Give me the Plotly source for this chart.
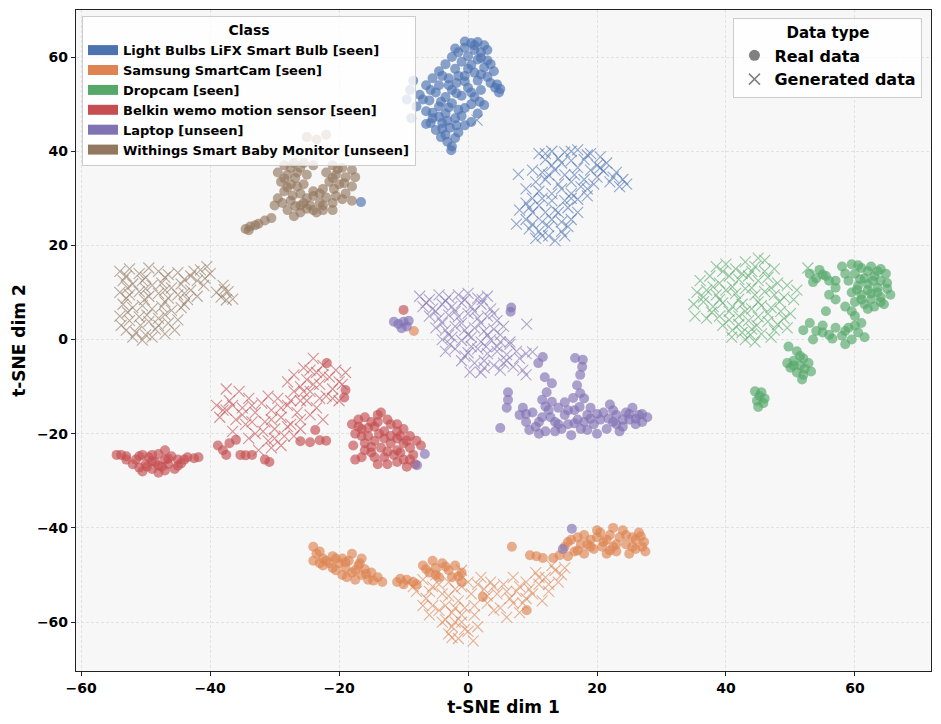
import plotly.graph_objects as go

# ---------------------------------------------------------------------------
# Data (x, y) per class / data type
# ---------------------------------------------------------------------------

CLASSES = [
    "Light Bulbs LiFX Smart Bulb [seen]",
    "Samsung SmartCam [seen]",
    "Dropcam [seen]",
    "Belkin wemo motion sensor [seen]",
    "Laptop [unseen]",
    "Withings Smart Baby Monitor [unseen]",
]
COLORS = ["#4C72B0", "#DD8452", "#55A868", "#C44E52", "#8172B3", "#937860"]

BULB_REAL = [
    (0.5, 63), (1.5, 63.2), (2.5, 62.5), (-0.5, 62), (1, 61.5), (2, 61), (3, 61.5), (-1.5, 61),
    (0, 60.2), (-2.5, 60), (1.5, 59.5), (3, 59.3), (-1, 59), (-3.5, 58.5), (0.5, 58.3), (2.5, 57.8),
    (-2, 57.5), (4, 57), (-4.5, 57), (1, 56.7), (-0.5, 56), (3, 55.8), (-3, 55.5), (-5.5, 55.5),
    (4.5, 54.2), (5, 53.2), (4.2, 53.5), (1.5, 55), (-1.8, 54.5), (-4.5, 54), (-6.5, 54), (-2.5, 53),
    (0, 53.5), (2, 53), (-5, 52.5), (-7.5, 52), (-3.5, 51.5), (-1, 51.8), (1, 51.5), (-6, 50.8),
    (-2.5, 50.2), (0.5, 50), (-4.5, 49.5), (-8, 49.5), (2.5, 49.8), (-1.5, 48.8), (-6.5, 48.5),
    (1.5, 48), (-3.5, 48), (-5.5, 47), (-2, 47), (-4, 46), (0.5, 46.2), (-6.5, 45.8), (-2.8, 45),
    (-5, 44.5), (-1.5, 44), (-3.5, 43.5), (-2, 42.8), (-3.2, 42), (-2.5, 41), (-2.6, 40.2),
    (-4, 44.8), (-8.5, 55), (-9, 53), (-8.8, 47), (-9.5, 51), (-16.6, 29.2),
    (-0.5, 63.3), (1, 62.5), (2, 59.8), (-2, 61.8), (0, 57.5), (-1.5, 56), (2, 56.3), (-4, 56),
    (3.5, 54.5), (-3, 54), (-0.5, 54.8), (-5.8, 53), (-1.8, 52.3), (0.5, 52.5), (-4.2, 50.5),
    (-7, 51), (1.8, 50.5), (-3, 49.3), (-0.5, 49.2), (-5.5, 48.2), (-4.5, 47.3), (-1, 47.5),
    (-3.2, 46.5), (-5.8, 46), (-0.5, 45.5), (-4.2, 43), (-1.8, 45.5), (4.8, 52.5), (3.5, 58.5),
]
BULB_GEN = [
    (11, 39.5), (13, 40), (15, 39.8), (17, 40.3), (19, 39.5), (20.5, 38.8), (12, 38.2), (14, 38.5),
    (16, 38), (18, 38.2), (21.5, 37.5), (13, 37), (10, 36), (11.5, 35.5), (13.5, 36), (15, 35),
    (17, 36.5), (19, 36), (21, 35.8), (22.5, 34.5), (24, 34), (24.6, 33), (23.5, 32.5), (18, 34),
    (16, 33.5), (12, 34), (10.5, 33.5), (9, 32), (11, 31.5), (14.5, 32), (16, 31), (17.5, 32.5),
    (19.5, 33), (15, 29.5), (17, 29.8), (18.5, 30.5), (10, 30), (9, 29), (11, 28.5), (8, 27.5),
    (10, 27), (12, 27), (13.5, 27.5), (15.5, 28), (17, 27), (9, 25.5), (11.5, 25), (13, 25.5),
    (14.5, 25), (16, 25.5), (7.5, 24.5), (9.5, 23.5), (11, 23), (12.5, 22), (13.5, 21), (14.5, 23),
    (10.5, 21.5), (15, 22), (7.8, 35.1), (1.4, 46.6),
    (12, 39.5), (16, 40), (18.5, 39.2), (14.5, 37.5), (20, 37), (12.5, 35), (16.5, 35), (20, 34.5),
    (22, 33.5), (14, 33), (13, 31), (18.5, 32), (11.5, 30), (16, 30), (9.5, 28), (14, 27),
    (12.5, 24), (10, 24.5), (15.5, 24), (11.5, 22), (13, 29.5), (20.5, 36.5), (23, 35.5),
]

CAM_REAL = [
    (-24, -44), (-23.5, -45.5), (-24, -47), (-22.5, -46.5), (-21.5, -47.5), (-22.5, -48), (-21, -46),
    (-20, -47.5), (-19.5, -46.5), (-19, -48.5), (-18.5, -47), (-18, -49.5), (-17, -48), (-16.5, -50),
    (-16, -48.8), (-15.5, -51), (-15, -49.5), (-14, -50.5), (-13.3, -51.5), (-17.5, -51), (-19.5, -50),
    (-20.5, -49), (-18, -45.5), (-16.5, -46.5), (-23, -47.5), (-11, -51.5), (-10, -52), (-9.5, -51),
    (-8.5, -51.5), (-7, -48), (-6, -49.5), (-5, -48.5), (-4, -47.5), (-3, -49), (-2, -48), (-1, -49.5),
    (-4.5, -50.5), (-2.5, -50.5), (-1, -51.5), (-5.5, -47), (6.8, -44), (9.6, -45.8), (10.6, -46),
    (11.6, -46.4), (13.2, -46.4), (14.2, -45.8), (2.3, -54.7), (9.1, -57.5), (15, -44), (16, -42.5),
    (16.5, -45), (17.5, -43.5), (18, -41.5), (19, -42.5), (19.5, -44.5), (20.5, -41), (21, -43),
    (22, -41.5), (22.5, -44), (23.5, -42), (24, -40.5), (24.5, -43.5), (25.5, -42), (26, -44.5),
    (26.5, -41), (27.3, -43), (27.5, -45), (25, -45.5), (23, -45), (21.5, -45.5), (18, -45.5),
    (20, -40.5), (22.5, -40), (15.5, -46), (-8.4, 1.8),
    (-23, -45), (-21, -48.5), (-20.5, -46.5), (-19, -47.3), (-17.5, -49), (-15.8, -49.8),
    (-14.7, -51.2), (-22, -47), (-18.8, -50.5), (-16.8, -47.5), (-10.5, -50.8), (-6.5, -48.8),
    (-3.5, -48.2), (-1.5, -50.3), (-5, -50), (-8, -52), (15.5, -43), (17, -42), (18.5, -43.5),
    (20, -42), (21.5, -42.5), (23, -43.5), (24.5, -41.5), (26, -42.5), (25.5, -44), (19, -44),
    (22, -44.8), (27, -44), (17, -44.8), (26.8, -41.8), (20.8, -44),
]
CAM_GEN = [
    (-9.3, -51.5), (-8, -53.5), (-7, -51), (-6.5, -55), (-5.5, -52.5), (-5, -50), (-4, -54),
    (-3.5, -56.5), (-3, -51.5), (-2, -53), (-1.5, -55.5), (-1, -49), (0, -51.5), (0.5, -54),
    (-0.5, -57), (-2.5, -58), (-4.5, -57.5), (-7, -56.5), (-6, -58.5), (-4, -60), (-2.5, -61),
    (-1, -60), (0, -62), (-1.5, -63.5), (0.8, -64), (-3, -62.5), (1, -58.5), (1.5, -61), (2, -50.5),
    (2.5, -53), (3, -56), (3.5, -51.5), (4.5, -54), (5, -57), (5.5, -52), (6.5, -55), (7, -50.5),
    (7.5, -53.5), (8.5, -56), (9, -51.5), (10, -54), (10.5, -49.5), (11, -52), (12, -50.5),
    (12.5, -53.5), (13.5, -49), (14, -51.5), (15, -48.5), (11.5, -55.5), (8, -58), (6, -59), (13, -48),
    (-8.5, -52.5), (-6, -53.5), (-4.5, -52), (-3, -54.5), (-5.5, -56.5), (-1, -52.5), (-2, -57),
    (-3.5, -59.5), (-2, -60), (-0.5, -61.5), (-1, -58.5), (1, -56.5), (1.5, -52), (3, -54.5),
    (4, -52.5), (6, -53.5), (7, -56), (8, -52.5), (9.5, -53), (11, -50.5), (12.5, -52), (14.5, -50),
    (9, -55), (4, -57.5), (-2.5, -63.3),
]

DROP_REAL = [
    (53, 14), (54.5, 14.8), (55.5, 13.5), (54, 13), (53.5, 12.2), (56, 12.5), (57, 11), (58, 15.5),
    (59.5, 16), (61, 15.2), (62.5, 15.5), (64, 15), (64.8, 14), (60, 14), (61.5, 13), (63, 13.5),
    (59, 12.5), (60.5, 11.5), (62, 11.8), (63.5, 11), (65, 12), (59.5, 10), (61, 9.5), (62.5, 9.8),
    (64, 9), (65.5, 9.5), (60, 8), (61.5, 7.5), (63, 7), (64.5, 7.5), (58.5, 7), (57, 8.5), (56, 9.5),
    (55.5, 6), (60, 5), (61, 3.5), (59, 2.5), (60.5, 1.5), (61.5, 0.5), (59.5, 0), (58, 0.8),
    (57, 2.5), (56, 1), (55, 3), (54, 1.8), (53, 3.5), (52, 2), (58.5, -1), (53.5, 0), (49.7, -1.5),
    (51, -2.5), (52, -4), (50.5, -4.5), (51.5, -5.5), (52.8, -5), (50, -6), (51, -7), (52, -7.5),
    (53.2, -6.8), (51.8, -8.5), (49.5, -5), (44.5, -11), (45.2, -12), (44.8, -13), (45.8, -13.5),
    (45, -14.3), (46, -12.5),
    (55, 13.8), (57, 12.5), (58.5, 14), (60.5, 15.8), (62, 14.5), (63.5, 14.5), (60.8, 12.8),
    (62.8, 12.5), (64, 12.5), (60.3, 10.6), (62, 10.5), (63.5, 10), (65, 10.8), (61, 8.5),
    (62.5, 8.5), (64, 8), (62, 6.5), (59.5, 6), (60, 3), (58.5, 1.8), (56.5, 0.2), (55, 1.5),
    (51.5, -3.5), (50.5, -5.5), (52.2, -6.2), (45.5, -11.2),
]
DROP_GEN = [
    (38.5, 15.5), (40, 16), (41.5, 15), (43, 16.5), (44.5, 15.5), (46, 16.8), (47.5, 15), (45, 17.3),
    (36, 12.5), (37.5, 13.5), (39, 12), (40.5, 13.5), (42, 12.8), (43.5, 13.5), (45, 12.5),
    (46.5, 13.2), (48, 12), (49.5, 11.5), (51, 10.5), (35.5, 10), (37, 10.5), (38.5, 9.5), (40, 10.5),
    (41.5, 9.8), (43, 10.8), (44.5, 9.5), (46, 10.2), (47.5, 9.5), (49, 9), (50.5, 8.5), (35, 7.5),
    (36.5, 8), (38, 7), (39.5, 7.8), (41, 7), (42.5, 7.5), (44, 6.5), (45.5, 7.2), (47, 6.8),
    (48.5, 6), (50, 5.5), (35.2, 5), (37, 4.5), (39, 5), (40.5, 4.2), (42, 5), (43.5, 4), (45, 4.8),
    (46.5, 3.8), (48, 3.2), (49.5, 2.5), (41, 2), (42.5, 1.5), (44, 2.2), (45.5, 1.2), (43, 0),
    (44.5, -0.5), (40.9, 0.5), (47, 0.5), (52.7, 15.2),
    (39.5, 14.5), (42.5, 14), (44, 14.5), (46, 14.5), (38, 11.2), (41, 11.2), (44, 11), (47, 11),
    (36.5, 9), (39, 8.5), (42, 8.6), (45, 8), (48.3, 8), (37.8, 5.8), (40.5, 6), (43, 6), (46.5, 5.5),
    (49, 4.5), (39.5, 3), (42, 3.2), (44.8, 3), (47.5, 2), (43.8, 1),
]

WEMO_REAL = [
    (-54.5, -24.5), (-53.8, -24.5), (-53, -24.8), (-51.5, -25.5), (-50.5, -24.5), (-50, -26.5),
    (-49.5, -25), (-49, -27.5), (-48.5, -26), (-48, -24.3), (-47.5, -27), (-47, -25.5), (-46.5, -26.5),
    (-46, -24.8), (-45.5, -27.5), (-45, -25.5), (-44.5, -26.3), (-43.5, -25), (-42.5, -25.2),
    (-41.8, -25), (-51, -27.2), (-48, -28.3), (-50.5, -28), (-52, -26.5), (-47, -23.5), (-38.8, -22.5),
    (-38, -23.5), (-37, -22), (-36, -21.3), (-37.5, -24.5), (-35.3, -24.5), (-34.5, -24.6),
    (-33.5, -24.5), (-31.5, -25.5), (-30.8, -26), (-26, -21.6), (-24.5, -21.8), (-23, -21.4),
    (-22, -21.5), (-23.7, -19.2), (-19, -10.7), (-19.2, -12.3), (-21.9, -5), (-18, -18), (-17, -17),
    (-16, -16.5), (-15, -17.5), (-14, -16), (-13.5, -15.5), (-17.5, -20), (-16.5, -19), (-15.5, -20.5),
    (-14.5, -18.5), (-13, -19.5), (-12, -18), (-11, -19.5), (-10, -19), (-9, -20.5), (-16, -22),
    (-14.5, -21.5), (-13.5, -23), (-12, -22), (-11, -23.5), (-10, -22), (-9, -23), (-8, -21.5),
    (-7.3, -22.5), (-15, -24), (-13, -25), (-11.5, -24.5), (-10, -25.5), (-8.5, -24.5), (-17.5, -25.5),
    (-16.5, -25), (-12.5, -26.5), (-9.5, -27), (-14, -26.5), (-16, -23.5), (-13, -21), (-11, -21),
    (-8.2, -26.5), (-10, 6.3),
    (-53, -25.5), (-51, -24.8), (-49, -25.8), (-48, -26.8), (-46.5, -25.3), (-45, -26.8), (-44, -25.5),
    (-49.8, -27), (-47, -27.8), (-49, -24.5), (-17, -18.5), (-15.5, -18.8), (-14, -17.5),
    (-12.5, -17), (-11, -18), (-13.8, -20), (-12, -20.5), (-10.5, -20.5), (-9.5, -21.5), (-15, -22.8),
    (-12.5, -23.8), (-10.5, -24), (-9, -25.5), (-14.5, -25), (-11, -26), (-16.5, -20.5), (-17.8, -22.5),
]
WEMO_GEN = [
    (-39, -14), (-38.5, -16.5), (-37.5, -15), (-37, -13), (-36, -17), (-35.5, -11), (-35, -14.5),
    (-34, -12.5), (-34.5, -18), (-33, -15.5), (-33, -20), (-32, -13.5), (-31.5, -17.5), (-31, -21.5),
    (-30.5, -15), (-30, -19), (-29.5, -12.5), (-29, -16.5), (-28.5, -20.5), (-28, -14), (-27.5, -18),
    (-27, -11), (-26.5, -15.5), (-26, -19), (-36.5, -19.5), (-32.5, -23.5), (-34, -21), (-29, -22.5),
    (-28, -9), (-27, -7.5), (-26, -10), (-25.5, -6), (-25, -8.5), (-24, -4), (-24.5, -11), (-23.5, -7),
    (-23, -9.5), (-22.5, -5.5), (-22, -12), (-21.5, -8), (-21, -10.5), (-20.5, -6.5), (-20, -13),
    (-19.5, -9.5), (-19, -7), (-25, -13), (-23.5, -14.5), (-27.5, -13), (-24.5, -16), (-22.5, -17),
    (-37.5, -10.5),
    (-38, -15), (-36.5, -14), (-35, -16), (-33.5, -14), (-33.5, -17.5), (-31.8, -19.5), (-30.5, -17),
    (-29, -14.5), (-28, -18.5), (-26, -17), (-31, -12), (-30, -21), (-27, -20.5), (-26, -13),
    (-24, -9.5), (-22.5, -7.5), (-21, -12.5), (-20, -9), (-24.5, -6.5), (-25.5, -11), (-23, -12.5),
    (-30.5, -23),
]

LAPTOP_REAL = [
    (-11.5, 3.8), (-10.8, 3.3), (-10, 3.8), (-9.5, 2.8), (-10.3, 2.4), (-9.2, 4.0), (6.7, 6.8),
    (6.6, 5.9), (11.6, -3.7), (10.9, -5), (11.9, -8), (13, -9.3), (12.2, -11.2), (11.5, -12.8),
    (16.6, -3.9), (17.8, -4.3), (17.7, -5.8), (17.4, -7.5), (16.9, -9.7), (17.4, -11.4), (16.3, -12.4),
    (15, -13.3), (6.2, -11.2), (6.2, -12.8), (6, -14.5), (5, -18.8), (8, -16), (9, -17.5), (10, -15.5),
    (10.5, -18.5), (11.5, -16.5), (12, -19.5), (12.5, -15), (13.5, -17.5), (14, -14.5), (14.5, -19),
    (15, -16), (15.5, -18), (16.5, -15), (17, -17), (17.5, -19), (18.5, -16), (19, -14.5), (19.5, -18),
    (20.5, -17), (21, -15.5), (21.5, -19), (22.5, -17.5), (23, -16), (24, -18.5), (24.5, -15.5),
    (25, -17), (26, -18), (26.5, -16), (27, -17.5), (27.8, -16.5), (25.5, -14.5), (23.5, -19.5),
    (20, -20), (11, -20), (9.5, -19.2), (13, -13.2), (18, -12.5), (22, -13.8), (8.5, -14.5),
    (16, -20.3), (-6.7, -24.3), (-7.9, -26.7), (16.1, -40.2), (14.7, -44.5),
    (9, -15.8), (11, -17.5), (12.8, -16.5), (14, -18), (15.5, -15), (16.5, -17.8), (18, -17.5),
    (19, -16.8), (20, -15.8), (21.8, -16.8), (23, -18), (24, -17), (25, -15.8), (26, -16.8),
    (27, -15.8), (22.5, -15), (13.5, -19.5), (18.5, -19.2), (17.3, -14.3), (12, -14.2),
]
LAPTOP_GEN = [
    (-7.5, 9.2), (-6, 8.5), (-4.5, 9.5), (-3, 9), (-1.5, 9.5), (0, 9.8), (1.5, 8.8), (3, 9.2), (-7, 7),
    (-5.5, 6.5), (-4, 7.5), (-2.5, 7), (-1, 7.8), (0.5, 7), (2, 7.5), (3.5, 6.5), (-6, 5), (-4.5, 4.5),
    (-3, 5.2), (-1.5, 4.8), (0, 5.5), (1.5, 4.5), (3, 5), (4.5, 4), (-5, 2.5), (-3.5, 2), (-2, 2.8),
    (-0.5, 2), (1, 2.5), (2.5, 1.8), (4, 2.2), (5, 1), (-4, 0), (-2.5, 0.5), (-1, -0.2), (0.5, 0.5),
    (2, -0.5), (3.5, 0), (5, -0.5), (6.5, -1), (-3.5, -2.5), (-2, -2), (0, -2.8), (1.5, -2), (3, -3),
    (4.5, -2.5), (6, -3.2), (7.5, -2.5), (9, -3), (10, -2.6), (-1, -4.5), (1, -5), (2.5, -4.5),
    (4, -5.5), (5.5, -5), (7, -5.8), (8.5, -6.5), (0.3, -6.9), (2, -7), (9, -7.5), (9.1, 3.3),
    (6.5, -0.5), (5.5, 2.8),
    (-6.5, 7.8), (-3.5, 8.2), (-0.5, 8.5), (2.2, 8.5), (-5, 6), (-2, 6), (1, 6), (4, 5.5), (-4, 3.5),
    (-1, 3.5), (2, 3.5), (-3, 1), (0, 1), (3, 1), (-2.8, -1), (0.5, -1.5), (2.8, -1.5), (4.5, -1.5),
    (8, -4), (6, -4.5), (2.5, -6), (5, -6.5), (-0.5, -3.5),
]

BABY_REAL = [
    (-25, 43), (-23.5, 42.5), (-22, 43.5), (-28.5, 37), (-27, 37.5), (-25.5, 37.5), (-24, 37),
    (-29.5, 35.5), (-28, 35), (-26.5, 35.5), (-25, 35), (-29, 33.5), (-27.5, 33), (-25.5, 33),
    (-28.5, 31.5), (-26, 31), (-24, 31.5), (-29.5, 30), (-27.5, 29.5), (-25.5, 29), (-30, 28.5),
    (-28, 27.5), (-26, 27), (-24, 27.5), (-22.5, 27.5), (-27, 26.2), (-21, 37), (-19.5, 36.5),
    (-18, 36), (-22, 35.5), (-20.5, 35), (-19, 34.5), (-17.5, 34.5), (-21.5, 33.5), (-20, 33),
    (-18, 32.5), (-22.5, 32), (-19, 31), (-20.5, 30.5), (-18, 29.5), (-21, 29), (-24, 30.5),
    (-23, 29), (-22, 30.2), (-23.5, 27), (-21, 27.5), (-24.5, 28.5), (-26, 28.5), (-34.5, 23.5),
    (-33.8, 24), (-33, 24.3), (-32.5, 24.6), (-34, 23.2), (-31.5, 25.3), (-30.5, 25.8),
    (-27.5, 36.5), (-26, 36.5), (-28.5, 34.2), (-26.8, 34.3), (-28, 32.3), (-26.5, 32.5),
    (-27.2, 30.6), (-25, 30), (-28.8, 29), (-26.8, 28.3), (-20.2, 36.2), (-21, 34.3), (-19.2, 33.2),
    (-20.8, 32), (-19.5, 29.8), (-23, 31), (-22.5, 28.5), (-25, 27.8),
]
BABY_GEN = [
    (-54, 14.5), (-52.5, 15), (-51, 14), (-49.5, 15.2), (-48, 14.5), (-46.5, 13.8), (-45, 14.2),
    (-43, 13.5), (-41.5, 14.8), (-40.5, 15.5), (-40, 14), (-42, 12.5), (-53.5, 12.5), (-52, 11.8),
    (-50.5, 12.5), (-49, 11.5), (-47.5, 12), (-46, 11), (-44.5, 11.8), (-43, 10.5), (-41, 11.5),
    (-54, 10), (-52.5, 9.5), (-51, 10.2), (-49.5, 9.2), (-48, 9.8), (-46.5, 8.8), (-45, 9.5),
    (-43.5, 8.5), (-42, 9.2), (-53.5, 7.5), (-52, 6.8), (-50.5, 7.2), (-49, 6.5), (-47.5, 7),
    (-46, 6.2), (-44.5, 6.8), (-54, 5), (-52.5, 4), (-51, 4.8), (-49.5, 3.8), (-48, 4.5), (-46.5, 3.5),
    (-45, 4.2), (-53, 2), (-51.5, 1.5), (-50, 1), (-48.5, 2.2), (-47, 1.2), (-50.5, -0.1), (-45.5, 2),
    (-39, 10), (-38, 11.5), (-37.2, 10.2), (-38.3, 9), (-36.5, 8.6), (-37.5, 8.4),
    (-53, 13.5), (-50, 13.2), (-47, 13.2), (-44, 12.8), (-52.8, 11), (-50, 10.8), (-47, 10.5),
    (-44, 9.8), (-53, 8.8), (-50.2, 8.5), (-47, 8), (-44, 7.5), (-52.8, 5.8), (-49.8, 5.2), (-47, 5.3),
    (-53.8, 3), (-50.8, 3), (-48, 3), (-52, 0.5), (-49, 0.5), (-42.5, 14.5), (-40.8, 13), (-37.8, 10.6),
]

REAL = [BULB_REAL, CAM_REAL, DROP_REAL, WEMO_REAL, LAPTOP_REAL, BABY_REAL]
GEN = [BULB_GEN, CAM_GEN, DROP_GEN, WEMO_GEN, LAPTOP_GEN, BABY_GEN]

FONT = "DejaVu Sans"

fig = go.Figure()

for name, color, real, gen in zip(CLASSES, COLORS, REAL, GEN):
    fig.add_trace(go.Scatter(
        x=[p[0] for p in real], y=[p[1] for p in real],
        mode="markers", showlegend=False, hoverinfo="skip",
        marker=dict(symbol="circle", size=10, color=color, opacity=0.65, line=dict(width=0)),
    ))
    fig.add_trace(go.Scatter(
        x=[p[0] for p in gen], y=[p[1] for p in gen],
        mode="markers", showlegend=False, hoverinfo="skip",
        marker=dict(symbol="x-thin", size=11, color=color, opacity=0.6,
                    line=dict(width=1.1, color=color)),
    ))

# legend 1 — class patches
for name, color in zip(CLASSES, COLORS):
    fig.add_trace(go.Scatter(
        x=[None], y=[None], mode="lines", name=name, legend="legend",
        line=dict(color=color, width=10),
    ))

# legend 2 — data type
fig.add_trace(go.Scatter(
    x=[None], y=[None], mode="markers", name="Real data", legend="legend2",
    marker=dict(symbol="circle", size=11, color="#808080"),
))
fig.add_trace(go.Scatter(
    x=[None], y=[None], mode="markers", name="Generated data", legend="legend2",
    marker=dict(symbol="x-thin", size=11, color="#808080", line=dict(width=1.5, color="#808080")),
))

axis_common = dict(
    showline=True, mirror=True, linecolor="#222222", linewidth=1.2,
    ticks="outside", ticklen=4, tickcolor="#222222",
    showgrid=True, gridcolor="#e2e2e2", griddash="3px,2px", gridwidth=0.6,
    zeroline=False,
    tickfont=dict(family=FONT, size=14, color="black", weight="bold"),
)

# page body adds an 8px offset, so the figure is shrunk by that amount
fig.update_layout(
    width=933, height=716,
    margin=dict(l=68, r=10, t=2, b=53),
    paper_bgcolor="white",
    plot_bgcolor="#f7f7f7",
    font=dict(family=FONT, color="black"),
    xaxis=dict(
        range=[-60.8, 71.8], tickvals=[-60, -40, -20, 0, 20, 40, 60],
        title=dict(text="t-SNE dim 1", font=dict(family=FONT, size=17, weight="bold"), standoff=6),
        **axis_common,
    ),
    yaxis=dict(
        range=[-70.4, 70.0], tickvals=[-60, -40, -20, 0, 20, 40, 60],
        title=dict(text="t-SNE dim 2", font=dict(family=FONT, size=17, weight="bold"), standoff=6),
        **axis_common,
    ),
    legend=dict(
        title=dict(text="Class", side="top center",
                   font=dict(family=FONT, size=14, weight="bold")),
        x=0.007, y=0.991, xanchor="left", yanchor="top",
        bgcolor="rgba(255,255,255,0.8)", bordercolor="#cccccc", borderwidth=1,
        font=dict(family=FONT, size=13, weight="bold"),
        itemwidth=30, tracegroupgap=0,
    ),
    legend2=dict(
        title=dict(text="Data type", side="top center",
                   font=dict(family=FONT, size=15, weight="bold")),
        x=0.99, y=0.988, xanchor="right", yanchor="top",
        bgcolor="rgba(255,255,255,0.8)", bordercolor="#cccccc", borderwidth=1,
        font=dict(family=FONT, size=16, weight="bold"),
        itemwidth=30, tracegroupgap=0,
    ),
)

fig.write_html("out.html")
